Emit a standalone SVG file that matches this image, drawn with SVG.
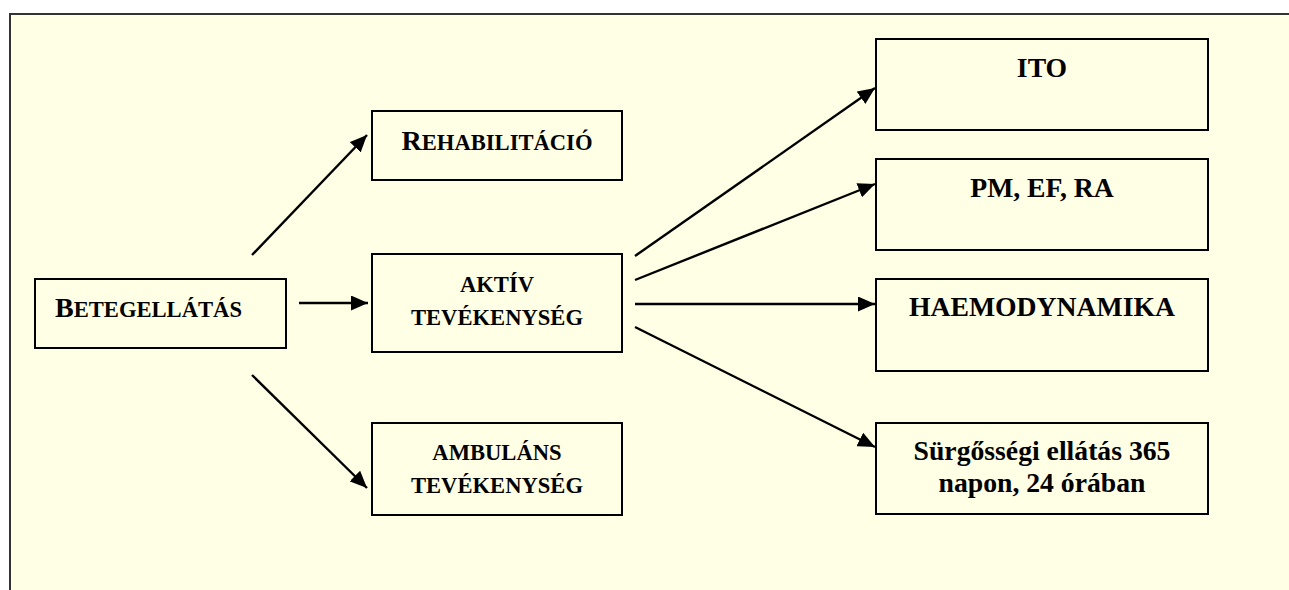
<svg xmlns="http://www.w3.org/2000/svg" width="1289" height="590" viewBox="0 0 1289 590">
<style>
.box{fill:none;stroke:#000;stroke-width:2}
.t{font-family:"Liberation Serif","Times New Roman",serif;font-weight:bold;fill:#000}
.c{text-anchor:middle}
.conn line{stroke:#000;stroke-width:2.4;marker-end:url(#ah)}
</style>
<defs>
<marker id="ah" markerUnits="userSpaceOnUse" markerWidth="18" markerHeight="15" refX="17" refY="7.5" orient="auto">
<path d="M0,0 L17,7.5 L0,15 z" fill="#000"/>
</marker>
</defs>
<rect x="0" y="0" width="1289" height="590" fill="#fff"/>
<rect x="10" y="14" width="1290" height="590" fill="#FFFFE5" stroke="#333" stroke-width="2"/>
<g id="n-betegellatas">
<rect class="box" x="35" y="279" width="251" height="69"/>
<text class="t" x="55" y="317" font-size="22.6"><tspan font-size="28">B</tspan>ETEGELLÁTÁS</text>
</g>
<g id="n-rehabilitacio">
<rect class="box" x="372" y="111" width="250" height="69"/>
<text class="t c" x="497" y="150" font-size="22.6"><tspan font-size="28">R</tspan>EHABILITÁCIÓ</text>
</g>
<g id="n-aktiv">
<rect class="box" x="372" y="254" width="250" height="98"/>
<text class="t c" x="497" y="292" font-size="22.6">AKTÍV</text>
<text class="t c" x="497" y="325" font-size="22.6">TEVÉKENYSÉG</text>
</g>
<g id="n-ambulans">
<rect class="box" x="372" y="423" width="250" height="92"/>
<text class="t c" x="497" y="460" font-size="22.6">AMBULÁNS</text>
<text class="t c" x="497" y="493" font-size="22.6">TEVÉKENYSÉG</text>
</g>
<g id="n-ito">
<rect class="box" x="876" y="39" width="332" height="91"/>
<text class="t c" x="1042" y="77" font-size="27.7">ITO</text>
</g>
<g id="n-pm">
<rect class="box" x="876" y="159" width="332" height="91"/>
<text class="t c" x="1042" y="197" font-size="27.7">PM, EF, RA</text>
</g>
<g id="n-haemo">
<rect class="box" x="876" y="279" width="332" height="92"/>
<text class="t c" x="1042" y="316" font-size="27.7">HAEMODYNAMIKA</text>
</g>
<g id="n-surgossegi">
<rect class="box" x="876" y="423" width="332" height="91"/>
<text class="t c" x="1042" y="460" font-size="27.7">Sürgősségi ellátás 365</text>
<text class="t c" x="1042" y="492" font-size="27.7">napon, 24 órában</text>
</g>
<g id="connectors" class="conn">
<line x1="252" y1="255" x2="367" y2="135"/>
<line x1="299" y1="303" x2="368" y2="303"/>
<line x1="252" y1="375" x2="367" y2="488"/>
<line x1="635" y1="256" x2="875" y2="88"/>
<line x1="635" y1="280" x2="875" y2="184"/>
<line x1="635" y1="304" x2="875" y2="304"/>
<line x1="635" y1="327" x2="875" y2="447"/>
</g>
</svg>
